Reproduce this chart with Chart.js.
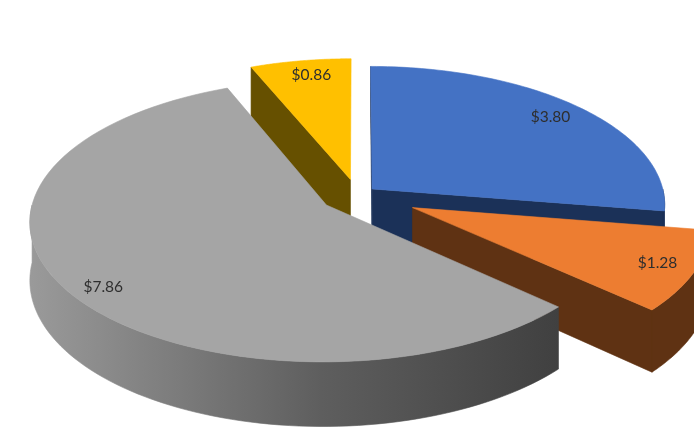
<!DOCTYPE html>
<html>
<head>
<meta charset="utf-8">
<style>
  html, body { margin: 0; padding: 0; background: #fff; }
  canvas { display: block; filter: blur(0.4px); }
</style>
<script src="https://cdn.jsdelivr.net/npm/chart.js@4"></script>
</head>
<body>
<canvas id="pieChart" width="694" height="428"></canvas>
<script>
var categories = ['Slice 1', 'Slice 2', 'Slice 3', 'Slice 4'];
var amounts = [3.80, 1.28, 7.86, 0.86];
var sliceColors = ['#4472C4', '#ED7D31', '#A5A5A5', '#FFC000'];
var sideColors = ['#1B3158', '#5F3213', null, '#665000'];

// how the flat pie gets tilted and pulled apart
var tilt = 0.47, perspective = 0.11, depth = 57;
var explode = [20, 61, 37, 34];
var labelAt = [0.86, 0.875, 0.895, 0.865];
var labelTurn = [0, 0, -3, 1.2];
var drawOrder = [3, 0, 1, 2];

var pie3d = {
    id: 'pie3d',
    beforeDatasetsDraw: function (chart) {
        var ctx = chart.ctx;
        var arcs = chart.getDatasetMeta(0).data;

        drawOrder.forEach(function (i) {
            var arc = arcs[i];
            var a0 = arc.startAngle, a1 = arc.endAngle, R = arc.outerRadius;
            var mid = (a0 + a1) / 2;
            var ox = Math.cos(mid) * explode[i], oy = Math.sin(mid) * explode[i];

            var project = function (r, a, d) {
                var dx = ox + r * Math.cos(a), dy = oy + r * Math.sin(a);
                var s = 1 / (1 - perspective * dy / R);
                return [arc.x + dx * s, arc.y + tilt * dy * s + d * s];
            };
            var rim = function (from, to, d) {
                for (var n = 0; n <= 80; n++) {
                    var p = project(R, from + (to - from) * n / 80, d);
                    ctx.lineTo(p[0], p[1]);
                }
            };
            var fillPath = function (color) {
                ctx.closePath();
                ctx.fillStyle = color;
                ctx.strokeStyle = color;
                ctx.lineWidth = 0.6;
                ctx.fill();
                ctx.stroke();
            };
            var cutFace = function (a, color) {
                var c = project(0, a, 0), e = project(R, a, 0);
                var e2 = project(R, a, depth), c2 = project(0, a, depth);
                ctx.beginPath();
                ctx.moveTo(c[0], c[1]);
                ctx.lineTo(e[0], e[1]);
                ctx.lineTo(e2[0], e2[1]);
                ctx.lineTo(c2[0], c2[1]);
                fillPath(color);
            };

            var wallColor = sideColors[i];
            if (!wallColor) {
                wallColor = ctx.createLinearGradient(30, 0, 560, 0);
                wallColor.addColorStop(0, '#9A9A9A');
                wallColor.addColorStop(0.55, '#5E5E5E');
                wallColor.addColorStop(1, '#404040');
            }

            // side faces that look towards the viewer
            if (Math.sin(a0) < 0) cutFace(a0, wallColor);
            if (Math.sin(a1) > 0) cutFace(a1, wallColor);
            var w0 = Math.max(a0, 0), w1 = Math.min(a1, Math.PI);
            if (w1 > w0) {
                ctx.beginPath();
                rim(w0, w1, 0);
                rim(w1, w0, depth);
                fillPath(wallColor);
            }

            // top
            var c = project(0, a0, 0);
            ctx.beginPath();
            ctx.moveTo(c[0], c[1]);
            rim(a0, a1, 0);
            fillPath(arc.options.backgroundColor);

            var t = project(R * labelAt[i], mid + labelTurn[i] * Math.PI / 180, 0);
            ctx.fillStyle = '#2E2E2E';
            ctx.font = '15.5px Lato, "Open Sans", sans-serif';
            ctx.textAlign = 'center';
            ctx.textBaseline = 'middle';
            ctx.fillText('$' + amounts[i].toFixed(2), t[0], t[1]);
        });
        return false;
    }
};

new Chart(document.getElementById('pieChart').getContext('2d'), {
    type: 'pie',
    data: {
        labels: categories,
        datasets: [{ data: amounts, backgroundColor: sliceColors, borderWidth: 0 }]
    },
    options: {
        responsive: false,
        animation: false,
        radius: 292,
        layout: { padding: { left: 20, bottom: 38 } },
        plugins: { legend: { display: false }, tooltip: { enabled: false } }
    },
    plugins: [pie3d]
});
</script>
</body>
</html>
